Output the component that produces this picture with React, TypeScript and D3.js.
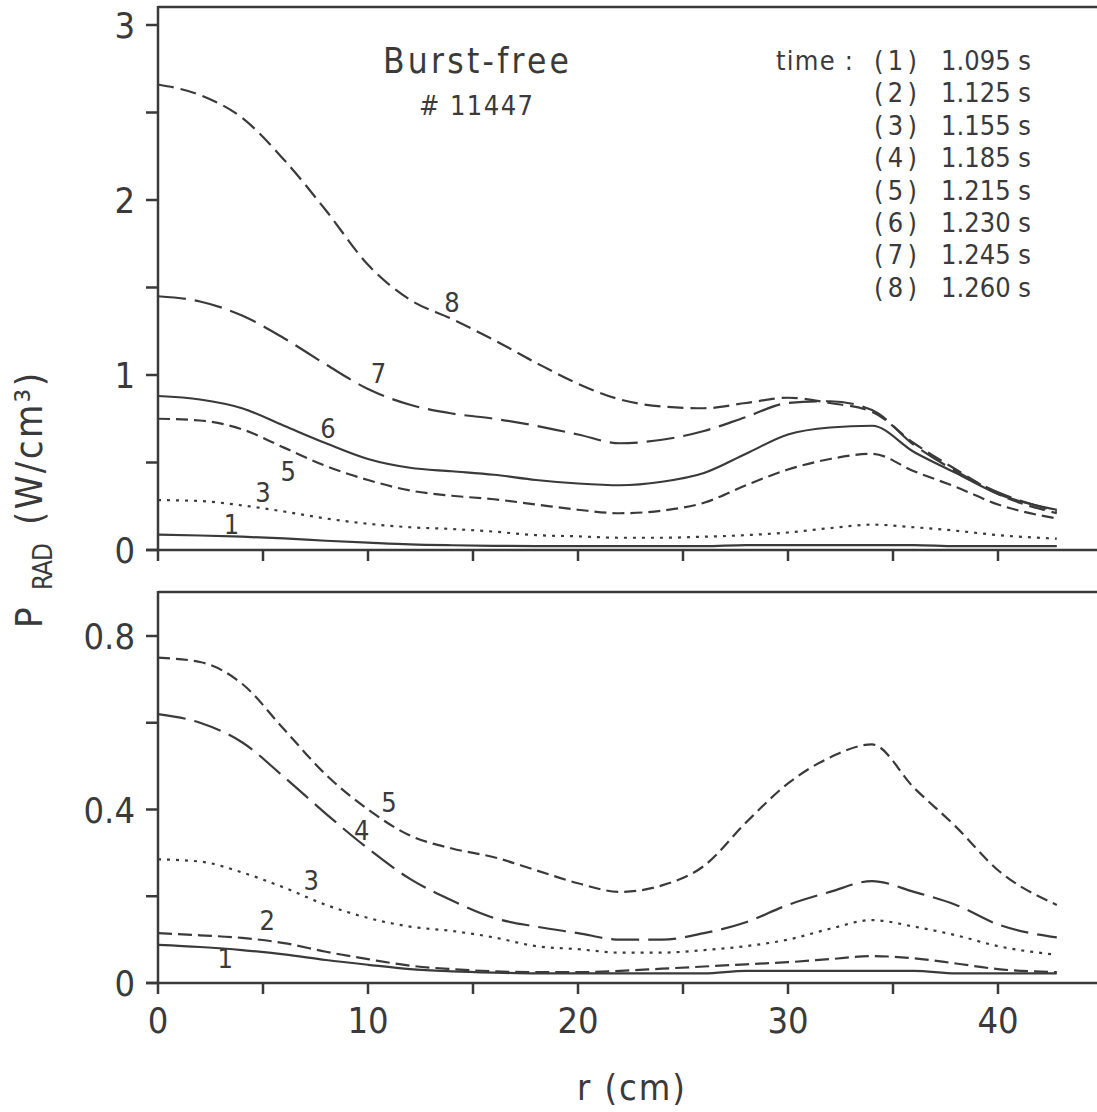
import React from 'react'
import * as d3 from 'd3'

const width = 1097
const height = 1112
const FONT = '"DejaVu Sans Condensed", "DejaVu Sans", sans-serif'
const INK = '#3a3a3a'

// radius grid (cm) shared by all profiles
const radius = [0, 2, 4, 6, 8, 10, 12, 14, 16, 18, 20, 22, 24, 26, 28, 30, 32, 34, 36, 38, 40, 42.8]

// P_RAD profiles (W/cm^3), one per time slice
const prof1 = [0.088, 0.083, 0.076, 0.066, 0.053, 0.042, 0.032, 0.027, 0.024, 0.022, 0.022, 0.022, 0.022, 0.022, 0.028, 0.028, 0.028, 0.028, 0.028, 0.022, 0.022, 0.022]
const prof2 = [0.115, 0.11, 0.104, 0.092, 0.072, 0.055, 0.04, 0.032, 0.027, 0.025, 0.025, 0.028, 0.033, 0.038, 0.043, 0.048, 0.055, 0.062, 0.057, 0.045, 0.032, 0.025]
const prof3 = [0.285, 0.28, 0.255, 0.22, 0.18, 0.15, 0.13, 0.12, 0.105, 0.085, 0.078, 0.07, 0.07, 0.076, 0.085, 0.1, 0.125, 0.145, 0.13, 0.11, 0.085, 0.065]
const prof4 = [0.62, 0.6, 0.555, 0.475, 0.39, 0.31, 0.24, 0.19, 0.15, 0.13, 0.115, 0.1, 0.1, 0.115, 0.14, 0.18, 0.21, 0.235, 0.21, 0.18, 0.135, 0.105]
const prof5 = [0.75, 0.74, 0.69, 0.585, 0.48, 0.4, 0.34, 0.31, 0.29, 0.26, 0.23, 0.21, 0.225, 0.27, 0.37, 0.46, 0.52, 0.55, 0.45, 0.36, 0.26, 0.18]
const prof6 = [0.88, 0.86, 0.81, 0.71, 0.61, 0.52, 0.47, 0.45, 0.43, 0.4, 0.38, 0.37, 0.39, 0.44, 0.55, 0.66, 0.7, 0.71, 0.56, 0.44, 0.32, 0.23]
const prof7 = [1.45, 1.42, 1.34, 1.21, 1.06, 0.92, 0.83, 0.78, 0.75, 0.71, 0.66, 0.61, 0.63, 0.68, 0.76, 0.84, 0.85, 0.8, 0.6, 0.45, 0.33, 0.22]
const prof8 = [2.66, 2.6, 2.47, 2.23, 1.94, 1.63, 1.43, 1.32, 1.2, 1.07, 0.95, 0.86, 0.82, 0.81, 0.84, 0.87, 0.84, 0.79, 0.61, 0.46, 0.32, 0.21]

const times = ['1.095', '1.125', '1.155', '1.185', '1.215', '1.230', '1.245', '1.260']

const xTicks = [0, 5, 10, 15, 20, 25, 30, 35, 40]
const xLabels = [0, 10, 20, 30, 40]
const topTicks = [0, 0.5, 1, 1.5, 2, 2.5, 3]
const topLabels = [0, 1, 2, 3]
const botTicks = [0, 0.2, 0.4, 0.6, 0.8]
const botLabels = [0, 0.4, 0.8]

const dashes: Record<string, string> = {
  '1': 'none', '2': '14 6', '3': '3 6', '4': '28 9',
  '5': '12 6', '6': 'none', '7': '28 9', '8': '16 7',
}

const topCurves = [
  { id: '1', v: prof1 }, { id: '3', v: prof3 }, { id: '5', v: prof5 },
  { id: '6', v: prof6 }, { id: '7', v: prof7 }, { id: '8', v: prof8 },
]
const botCurves = [
  { id: '1', v: prof1 }, { id: '2', v: prof2 }, { id: '3', v: prof3 },
  { id: '4', v: prof4 }, { id: '5', v: prof5 },
]

// curve number tags, in data coords
const topTags = [
  { id: '8', r: 14.0, v: 1.42 }, { id: '7', r: 10.5, v: 1.01 }, { id: '6', r: 8.1, v: 0.7 },
  { id: '5', r: 6.2, v: 0.45 }, { id: '3', r: 5.0, v: 0.33 }, { id: '1', r: 3.5, v: 0.15 },
]
const botTags = [
  { id: '5', r: 11.0, v: 0.417 }, { id: '4', r: 9.7, v: 0.353 }, { id: '3', r: 7.3, v: 0.237 },
  { id: '2', r: 5.2, v: 0.145 }, { id: '1', r: 3.2, v: 0.058 },
]

const App = () => {
  const x = d3.scaleLinear().domain([0, 40]).range([158, 998])
  const yTop = d3.scaleLinear().domain([0, 3]).range([550, 25])
  const yBot = d3.scaleLinear().domain([0, 0.8]).range([983, 636])

  const lineFor = (y: d3.ScaleLinear<number, number>) =>
    d3.line<number>()
      .x((_, i) => x(radius[i]))
      .y(d => y(d))
      .curve(d3.curveMonotoneX)

  const topLine = lineFor(yTop)
  const botLine = lineFor(yBot)

  const left = x(0)
  const right = width + 5

  const panel = (
    y: d3.ScaleLinear<number, number>,
    top: number,
    ticks: number[],
    labels: number[],
    key: string,
  ) => (
    <g key={key}>
      <line x1={left} x2={right} y1={top} y2={top} stroke={INK} strokeWidth={2.5} />
      <line x1={left} x2={left} y1={top - 1} y2={y(0)} stroke={INK} strokeWidth={2.5} />
      <line x1={left - 12} x2={right} y1={y(0)} y2={y(0)} stroke={INK} strokeWidth={2.5} />
      {ticks.map(t => (
        <line key={'yt' + t} x1={left - 12} x2={left} y1={y(t)} y2={y(t)} stroke={INK} strokeWidth={2.5} />
      ))}
      {labels.map(t => (
        <text key={'yl' + t} x={135} y={y(t) + 13} textAnchor="end" fontSize={36} fontFamily={FONT} fill={INK}>
          {t}
        </text>
      ))}
      {xTicks.map(t => (
        <line key={'xt' + t} x1={x(t)} x2={x(t)} y1={y(0)} y2={y(0) + 11} stroke={INK} strokeWidth={2.5} />
      ))}
    </g>
  )

  return (
    <svg width={width} height={height} style={{ position: 'absolute', left: 0, top: 0, background: '#fff' }}>
      <rect width={width} height={height} fill="#fff" />
      {panel(yTop, 7, topTicks, topLabels, 'top')}
      {panel(yBot, 592, botTicks, botLabels, 'bot')}

      {topCurves.map(c => (
        <path key={'tc' + c.id} d={topLine(c.v) || ''} fill="none" stroke={INK} strokeWidth={2.2}
          strokeDasharray={dashes[c.id]} />
      ))}
      {botCurves.map(c => (
        <path key={'bc' + c.id} d={botLine(c.v) || ''} fill="none" stroke={INK} strokeWidth={2.2}
          strokeDasharray={dashes[c.id]} />
      ))}

      {topTags.map(t => (
        <text key={'tt' + t.id} x={x(t.r)} y={yTop(t.v) + 10} textAnchor="middle" fontSize={27} fontFamily={FONT} fill={INK}>
          {t.id}
        </text>
      ))}
      {botTags.map(t => (
        <text key={'bt' + t.id} x={x(t.r)} y={yBot(t.v) + 10} textAnchor="middle" fontSize={27} fontFamily={FONT} fill={INK}>
          {t.id}
        </text>
      ))}

      {xLabels.map(t => (
        <text key={'xl' + t} x={x(t)} y={1033} textAnchor="middle" fontSize={36} fontFamily={FONT} fill={INK}>
          {t}
        </text>
      ))}
      <text x={577} y={1100} fontSize={36} fontFamily={FONT} fill={INK} textLength={108} lengthAdjust="spacing">
        r (cm)
      </text>

      {/* y axis title */}
      <text transform="translate(42,628) rotate(-90)" fontSize={38} fontFamily={FONT} fill={INK} textLength={35} lengthAdjust="spacing">
        P
      </text>
      <text transform="translate(52,590) rotate(-90)" fontSize={26} fontFamily={FONT} fill={INK} textLength={47} lengthAdjust="spacing">
        RAD
      </text>
      <text transform="translate(42,525) rotate(-90)" fontSize={38} fontFamily={FONT} fill={INK} textLength={152} lengthAdjust="spacing">
        (W/cm³)
      </text>

      {/* titles */}
      <text x={383} y={73} fontSize={35} fontFamily={FONT} fill={INK} textLength={186} lengthAdjust="spacing">
        Burst-free
      </text>
      <text x={419} y={115} fontSize={27} fontFamily={FONT} fill={INK} textLength={114} lengthAdjust="spacing">
        #  11447
      </text>

      {/* legend */}
      <text x={776} y={70} fontSize={27} fontFamily={FONT} fill={INK} textLength={77} lengthAdjust="spacing">
        time :
      </text>
      {times.map((t, i) => (
        <g key={'lg' + i}>
          <text x={874} y={70 + i * 32.4} fontSize={27} fontFamily={FONT} fill={INK} textLength={43} lengthAdjust="spacing">
            ({i + 1})
          </text>
          <text x={941} y={70 + i * 32.4} fontSize={27} fontFamily={FONT} fill={INK} textLength={90} lengthAdjust="spacing">
            {t} s
          </text>
        </g>
      ))}
    </svg>
  )
}

export default App
